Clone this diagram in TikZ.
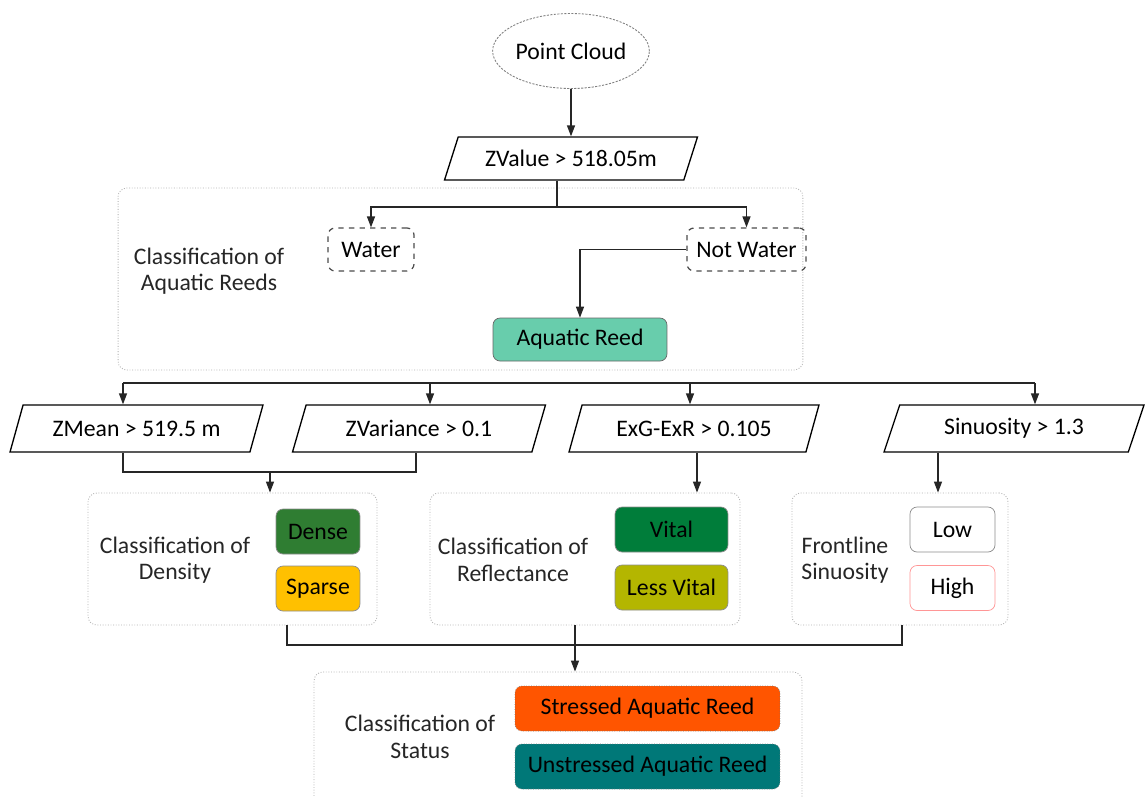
\documentclass[tikz,border=0pt]{standalone}
\usepackage{fontspec}
\setmainfont{Carlito}
\usetikzlibrary{shapes.geometric,arrows.meta}
\definecolor{aqua}{RGB}{104,205,172}
\definecolor{densec}{RGB}{47,125,50}
\definecolor{sparsec}{RGB}{255,192,0}
\definecolor{vitalc}{RGB}{0,125,58}
\definecolor{lessc}{RGB}{180,182,0}
\definecolor{stressc}{RGB}{255,85,0}
\definecolor{unstressc}{RGB}{0,120,120}
\definecolor{pinkc}{RGB}{255,150,150}
\begin{document}
\begin{tikzpicture}[x=0.02cm,y=-0.02cm,
  font=\fontsize{13.5}{15}\selectfont,
  conn/.style={line width=0.75pt,black!85},
  arr/.style={conn,-{Triangle[length=2.2mm,width=1.6mm]}},
  para/.style={trapezium,trapezium left angle=60,trapezium right angle=120,
    trapezium stretches body,draw,line width=0.75pt,minimum height=#1,inner sep=2pt},
  group/.style={draw=black!30,densely dotted,line width=0.5pt,rounded corners=5pt},
  dashbox/.style={draw=black!70,dashed,line width=0.7pt,rounded corners=4pt,minimum height=0.86cm},
  cbox/.style={draw=black!45,line width=0.4pt,rounded corners=4pt,minimum height=0.9cm},
  lbl/.style={align=center,text=black!85}
]
\useasboundingbox[fill=white] (0,0) rectangle (1147,796);

% top
\node[ellipse,draw=black!50,dash pattern=on 1.2pt off 0.8pt,line width=0.5pt,
  minimum width=2.42cm,minimum height=1.5cm,inner sep=0pt] (pc) at (571,51) {Point Cloud};
\node[para=0.86cm,minimum width=5.06cm] (zv) at (571,158.5) {ZValue > 518.05m};
\draw[arr] (pc.south) -- (pc.south |- zv.north);

% group 1
\node[group,minimum width=13.7cm,minimum height=3.64cm] (g1) at (460.5,279) {};
\node[lbl] (g1l) at (209,271) {Classification of\\Aquatic Reeds};
\node[dashbox,minimum width=1.72cm] (water) at (371,249.5) {Water};
\node[dashbox,minimum width=2.38cm] (notwater) at (746.5,249.5) {Not Water};
\node[cbox,fill=aqua,draw=black!60,minimum width=3.48cm,minimum height=0.86cm] (reed) at (580,339.5) {Aquatic Reed};
\coordinate (j1) at (557,207);
\draw[conn] (j1 |- zv.south) -- (j1);
\draw[arr] (j1) -| (water.north);
\draw[arr] (j1) -| (notwater.north);
\draw[arr] (notwater.west) -| (reed.north);

% bus
\node[para=0.94cm,minimum width=5.06cm] (zm) at (136.5,428.5) {ZMean > 519.5 m};
\node[para=0.94cm,minimum width=5.06cm] (zva) at (419,428.5) {ZVariance > 0.1};
\node[para=0.94cm,minimum width=5.0cm] (exg) at (694,428.5) {ExG-ExR > 0.105};
\node[para=0.94cm,minimum width=5.2cm] (sin) at (1014,428.5) {Sinuosity > 1.3};
\coordinate (b1) at (123,383);
\coordinate (b2) at (430,383);
\coordinate (b3) at (690,383);
\coordinate (b4) at (1035,383);
\draw[conn] (b1) -- (b4);
\draw[arr] (b1) -- (b1 |- zm.north);
\draw[arr] (b2) -- (b2 |- zva.north);
\draw[arr] (b3) -- (b3 |- exg.north);
\draw[arr] (b4) -- (b4 |- sin.north);

% density
\node[group,minimum width=5.78cm,minimum height=2.64cm] (dens) at (232.5,559) {};
\node[lbl] (densl) at (175,560) {Classification of\\Density};
\node[cbox,fill=densec,minimum width=1.68cm] (dense) at (318,531.5) {Dense};
\node[cbox,fill=sparsec,minimum width=1.68cm] (sparse) at (318,588.5) {Sparse};
% reflectance
\node[group,minimum width=6.2cm,minimum height=2.64cm] (refl) at (585,559) {};
\node[lbl] (refll) at (513,560) {Classification of\\Reflectance};
\node[cbox,fill=vitalc,minimum width=2.26cm] (vital) at (671.5,529.5) {Vital};
\node[cbox,fill=lessc,minimum width=2.26cm] (less) at (671.5,587.5) {Less Vital};
% sinuosity
\node[group,minimum width=4.32cm,minimum height=2.64cm] (sinb) at (900,559) {};
\node[lbl] (sinl) at (845,560) {Frontline\\Sinuosity};
\node[cbox,fill=white,draw=black!45,minimum width=1.7cm] (low) at (952.5,529.5) {Low};
\node[cbox,fill=white,draw=pinkc,minimum width=1.7cm] (high) at (952.5,588) {High};

\coordinate (j2) at (123,472);
\coordinate (j3) at (416,472);
\coordinate (j4) at (270,472);
\draw[conn] (j2 |- zm.south) -- (j2) -- (j3) -- (j3 |- zva.south);
\draw[arr] (j4) -- (j4 |- dens.north);
\coordinate (e1) at (697,452);
\draw[arr] (e1 |- exg.south) -- (e1 |- refl.north);
\coordinate (s1) at (938,452);
\draw[arr] (s1 |- sin.south) -- (s1 |- sinb.north);

% status
\coordinate (k1) at (287,645);
\coordinate (k2) at (575,645);
\coordinate (k3) at (902,645);
\node[group,minimum width=9.76cm,minimum height=2.76cm] (status) at (558,741) {};
\node[lbl] (statusl) at (420,737) {Classification of\\Status};
\node[cbox,fill=stressc,draw=black!55,densely dotted,minimum width=5.3cm] (stress) at (647.5,708.5) {Stressed Aquatic Reed};
\node[cbox,fill=unstressc,draw=black!55,densely dotted,minimum width=5.3cm] (unstress) at (647.5,766.5) {Unstressed Aquatic Reed};
\draw[conn] (k1 |- dens.south) -- (k1) -- (k3) -- (k3 |- sinb.south);
\draw[conn] (k2 |- refl.south) -- (k2);
\draw[arr] (k2) -- (k2 |- status.north);
\end{tikzpicture}
\end{document}
